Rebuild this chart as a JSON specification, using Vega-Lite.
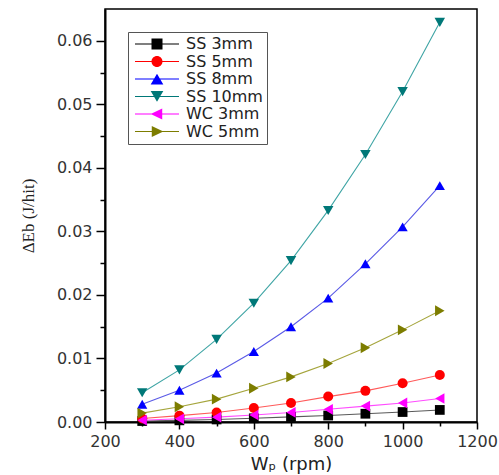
{
  "$schema": "https://vega.github.io/schema/vega-lite/v6.json",
  "width": 372,
  "height": 413,
  "autosize": "none",
  "padding": {"left": 105, "top": 9, "right": 22, "bottom": 53},
  "background": "white",
  "config": {
    "view": {"stroke": "black", "strokeWidth": 1.5},
    "font": "DejaVu Sans"
  },
  "data": {
    "values": [
      {"W": 300, "series": "SS 3mm", "E": 0.00015},
      {"W": 400, "series": "SS 3mm", "E": 0.00026},
      {"W": 500, "series": "SS 3mm", "E": 0.0004},
      {"W": 600, "series": "SS 3mm", "E": 0.00058},
      {"W": 700, "series": "SS 3mm", "E": 0.0008},
      {"W": 800, "series": "SS 3mm", "E": 0.00102},
      {"W": 900, "series": "SS 3mm", "E": 0.0013},
      {"W": 1000, "series": "SS 3mm", "E": 0.00157},
      {"W": 1100, "series": "SS 3mm", "E": 0.0019},
      {"W": 300, "series": "SS 5mm", "E": 0.00056},
      {"W": 400, "series": "SS 5mm", "E": 0.001},
      {"W": 500, "series": "SS 5mm", "E": 0.0015},
      {"W": 600, "series": "SS 5mm", "E": 0.0022},
      {"W": 700, "series": "SS 5mm", "E": 0.003},
      {"W": 800, "series": "SS 5mm", "E": 0.004},
      {"W": 900, "series": "SS 5mm", "E": 0.0049},
      {"W": 1000, "series": "SS 5mm", "E": 0.0061},
      {"W": 1100, "series": "SS 5mm", "E": 0.0074},
      {"W": 300, "series": "SS 8mm", "E": 0.0028},
      {"W": 400, "series": "SS 8mm", "E": 0.005},
      {"W": 500, "series": "SS 8mm", "E": 0.0077},
      {"W": 600, "series": "SS 8mm", "E": 0.0111},
      {"W": 700, "series": "SS 8mm", "E": 0.015},
      {"W": 800, "series": "SS 8mm", "E": 0.0195},
      {"W": 900, "series": "SS 8mm", "E": 0.0249},
      {"W": 1000, "series": "SS 8mm", "E": 0.0307},
      {"W": 1100, "series": "SS 8mm", "E": 0.0372},
      {"W": 300, "series": "SS 10mm", "E": 0.0046},
      {"W": 400, "series": "SS 10mm", "E": 0.0082},
      {"W": 500, "series": "SS 10mm", "E": 0.013},
      {"W": 600, "series": "SS 10mm", "E": 0.0187},
      {"W": 700, "series": "SS 10mm", "E": 0.0254},
      {"W": 800, "series": "SS 10mm", "E": 0.0333},
      {"W": 900, "series": "SS 10mm", "E": 0.0421},
      {"W": 1000, "series": "SS 10mm", "E": 0.052},
      {"W": 1100, "series": "SS 10mm", "E": 0.0629},
      {"W": 300, "series": "WC 3mm", "E": 0.00028},
      {"W": 400, "series": "WC 3mm", "E": 0.0005},
      {"W": 500, "series": "WC 3mm", "E": 0.00076},
      {"W": 600, "series": "WC 3mm", "E": 0.0011},
      {"W": 700, "series": "WC 3mm", "E": 0.0015},
      {"W": 800, "series": "WC 3mm", "E": 0.002},
      {"W": 900, "series": "WC 3mm", "E": 0.0025},
      {"W": 1000, "series": "WC 3mm", "E": 0.003},
      {"W": 1100, "series": "WC 3mm", "E": 0.0037},
      {"W": 300, "series": "WC 5mm", "E": 0.0014},
      {"W": 400, "series": "WC 5mm", "E": 0.0024},
      {"W": 500, "series": "WC 5mm", "E": 0.0036},
      {"W": 600, "series": "WC 5mm", "E": 0.0053},
      {"W": 700, "series": "WC 5mm", "E": 0.0071},
      {"W": 800, "series": "WC 5mm", "E": 0.0092},
      {"W": 900, "series": "WC 5mm", "E": 0.0117},
      {"W": 1000, "series": "WC 5mm", "E": 0.0145},
      {"W": 1100, "series": "WC 5mm", "E": 0.0175}
    ]
  },
  "encoding": {
    "x": {
      "field": "W",
      "type": "quantitative",
      "scale": {"domain": [200, 1200], "nice": false, "zero": false},
      "axis": {
        "title": "Wₚ (rpm)",
        "titleFont": "DejaVu Sans",
        "titleFontSize": 18,
        "titleFontWeight": "normal",
        "titleColor": "#222",
        "titlePadding": 6,
        "values": [200, 300, 400, 500, 600, 700, 800, 900, 1000, 1100, 1200],
        "format": "d",
        "labelExpr": "datum.value % 200 == 0 ? datum.label : ''",
        "labelFontSize": 16,
        "labelColor": "#333",
        "labelPadding": 4,
        "labelFlush": false,
        "labelOverlap": false,
        "grid": false,
        "domainColor": "black",
        "domainWidth": 2,
        "tickColor": "black",
        "tickWidth": 1.5,
        "tickSize": {"condition": {"test": "datum.value % 200 == 0", "value": 7}, "value": 4}
      }
    },
    "y": {
      "field": "E",
      "type": "quantitative",
      "scale": {"domain": [0, 0.065], "nice": false},
      "axis": {
        "title": "ΔEb (J/hit)",
        "titleFont": "Liberation Serif",
        "titleFontSize": 17,
        "titleFontWeight": "normal",
        "titleColor": "#222",
        "titlePadding": 19,
        "values": [0, 0.005, 0.01, 0.015, 0.02, 0.025, 0.03, 0.035, 0.04, 0.045, 0.05, 0.055, 0.06],
        "format": ".2f",
        "labelExpr": "abs(datum.value * 100 - round(datum.value * 100)) < 1e-6 ? datum.label : ''",
        "labelFontSize": 16,
        "labelColor": "#333",
        "labelPadding": 4,
        "labelFlush": false,
        "labelOverlap": false,
        "grid": false,
        "domainColor": "black",
        "domainWidth": 2,
        "tickColor": "black",
        "tickWidth": 1.5,
        "tickSize": {"condition": {"test": "abs(datum.value * 100 - round(datum.value * 100)) < 1e-6", "value": 9}, "value": 5}
      }
    }
  },
  "layer": [
    {
      "mark": {"type": "line", "strokeWidth": 1.1},
      "encoding": {
        "color": {
          "field": "series",
          "type": "nominal",
          "scale": {
            "domain": ["SS 3mm", "SS 5mm", "SS 8mm", "SS 10mm", "WC 3mm", "WC 5mm"],
            "range": ["#5a5a5a", "#ff5a5a", "#5a5ae6", "#3fa5a5", "#ff4cff", "#a5a53c"]
          },
          "legend": null
        },
        "detail": {"field": "series"}
      }
    },
    {
      "mark": {"type": "point", "filled": true, "opacity": 1},
      "encoding": {
        "color": {
          "field": "series",
          "type": "nominal",
          "scale": {
            "domain": ["SS 3mm", "SS 5mm", "SS 8mm", "SS 10mm", "WC 3mm", "WC 5mm"],
            "range": ["#000000", "#ff0000", "#0000ff", "#007878", "#ff00ff", "#7d7d00"]
          },
          "legend": null
        },
        "shape": {
          "field": "series",
          "type": "nominal",
          "scale": {
            "domain": ["SS 3mm", "SS 5mm", "SS 8mm", "SS 10mm", "WC 3mm", "WC 5mm"],
            "range": ["square", "circle", "triangle-up", "triangle-down", "triangle-left", "triangle-right"]
          },
          "legend": null
        },
        "size": {
          "field": "series",
          "type": "nominal",
          "scale": {
            "domain": ["SS 3mm", "SS 5mm", "SS 8mm", "SS 10mm", "WC 3mm", "WC 5mm"],
            "range": [95, 120, 165, 165, 165, 165]
          },
          "legend": null
        }
      }
    },
    {
      "transform": [{"filter": "datum.W > 5000"}],
      "mark": {"type": "point", "filled": true, "opacity": 1},
      "encoding": {
        "color": {
          "field": "series",
          "type": "nominal",
          "scale": {
            "domain": ["SS 3mm", "SS 5mm", "SS 8mm", "SS 10mm", "WC 3mm", "WC 5mm"],
            "range": ["#000000", "#ff0000", "#0000ff", "#007878", "#ff00ff", "#7d7d00"]
          },
          "legend": {
            "orient": "none",
            "legendX": 23,
            "legendY": 23,
            "title": null,
            "strokeColor": "#555",
            "fillColor": "white",
            "padding": 4,
            "labelFont": "DejaVu Sans",
            "labelFontSize": 16,
            "labelColor": "#222",
            "symbolSize": 121,
            "symbolOffset": 17,
            "labelOffset": 21,
            "rowPadding": 1.5,
            "symbolStrokeWidth": 0
          }
        },
        "shape": {
          "field": "series",
          "type": "nominal",
          "scale": {
            "domain": ["SS 3mm", "SS 5mm", "SS 8mm", "SS 10mm", "WC 3mm", "WC 5mm"],
            "range": [
              "M-4,-0.09H4V0.09H-4Z M-1,-1H1V1H-1Z",
              "M-4,-0.09H4V0.09H-4Z M1,0A1,1,0,1,1,-1,0A1,1,0,1,1,1,0Z",
              "M-4,-0.09H4V0.09H-4Z M0,-0.95L1.15,1L-1.15,1Z",
              "M-4,-0.09H4V0.09H-4Z M0,0.95L-1.15,-1L1.15,-1Z",
              "M-4,-0.09H4V0.09H-4Z M-1.15,0L0.95,-1L0.95,1Z",
              "M-4,-0.09H4V0.09H-4Z M1.15,0L-0.95,1L-0.95,-1Z"
            ]
          }
        }
      }
    }
  ],
  "resolve": {"scale": {"color": "independent", "shape": "independent", "size": "independent"}}
}
